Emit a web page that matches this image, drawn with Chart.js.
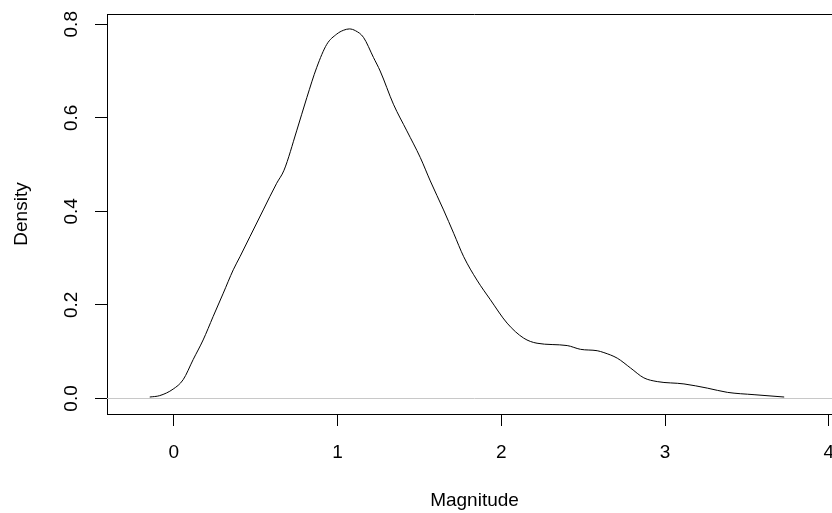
<!DOCTYPE html>
<html>
<head>
<meta charset="utf-8">
<script src="https://cdn.jsdelivr.net/npm/chart.js@4/dist/chart.umd.min.js"></script>
<style>
  html, body { margin: 0; padding: 0; background: #fff; overflow: hidden; width: 832px; height: 513px; }
  #wrap { width: 860px; height: 513px; }
</style>
</head>
<body>
<div id="wrap"><canvas id="density-canvas" width="860" height="513"></canvas></div>
<script>
// density estimate of magnitude
var magnitude = [-0.147, -0.086, -0.004, 0.057, 0.118, 0.179, 0.240, 0.302, 0.363, 0.404, 0.465, 0.546, 0.628, 0.673,
    0.750, 0.812, 0.873, 0.934, 0.995, 1.035, 1.072, 1.110, 1.158, 1.219, 1.260, 1.341, 1.423, 1.505, 1.566, 1.647,
    1.709, 1.770, 1.851, 1.933, 2.035, 2.136, 2.218, 2.402, 2.483, 2.585, 2.626, 2.708, 2.789, 2.870, 2.952,
    3.115, 3.258, 3.380, 3.543, 3.727];
var density = [0.003, 0.006, 0.020, 0.040, 0.083, 0.125, 0.175, 0.225, 0.275, 0.303, 0.346, 0.403, 0.460, 0.488,
    0.572, 0.643, 0.708, 0.757, 0.779, 0.787, 0.790, 0.786, 0.772, 0.729, 0.700, 0.629, 0.572, 0.515, 0.465, 0.403,
    0.353, 0.303, 0.253, 0.211, 0.161, 0.129, 0.118, 0.113, 0.105, 0.102, 0.098, 0.086, 0.065, 0.044, 0.036,
    0.031, 0.022, 0.013, 0.008, 0.003];
var xTicks = [0, 1, 2, 3, 4];
var yTicks = [0, 0.2, 0.4, 0.6, 0.8];
var yTickLabels = ['0.0', '0.2', '0.4', '0.6', '0.8'];

var fontFamily = '"Liberation Sans", Arial, sans-serif';
var fontSize = 19;

var points = magnitude.map(function(v, i) { return { x: v, y: density[i] }; });

// box top edge, zero line and rotated y labels like base R
var rStyle = {
    id: 'rStyle',
    beforeDatasetsDraw: function(chart) {
        var ctx = chart.ctx;
        var area = chart.chartArea;
        var y0 = Math.round(chart.scales.y.getPixelForValue(0)) + 0.5;
        ctx.save();
        ctx.strokeStyle = '#c8c8c8';
        ctx.lineWidth = 1;
        ctx.beginPath();
        ctx.moveTo(area.left, y0);
        ctx.lineTo(area.right, y0);
        ctx.stroke();
        ctx.restore();
    },
    afterDraw: function(chart) {
        var ctx = chart.ctx;
        var area = chart.chartArea;
        var yScale = chart.scales.y;
        ctx.save();
        ctx.strokeStyle = '#000';
        ctx.lineWidth = 1;
        ctx.beginPath();
        ctx.moveTo(area.left, Math.round(area.top) + 0.5);
        ctx.lineTo(area.right, Math.round(area.top) + 0.5);
        ctx.stroke();

        ctx.fillStyle = '#000';
        ctx.font = fontSize + 'px ' + fontFamily;
        ctx.textAlign = 'center';
        ctx.textBaseline = 'middle';
        yTicks.forEach(function(v, i) {
            var py = yScale.getPixelForValue(v);
            ctx.save();
            ctx.translate(72, py);
            ctx.rotate(-Math.PI / 2);
            ctx.fillText(yTickLabels[i], 0, 0);
            ctx.restore();
        });
        ctx.restore();
    }
};

var densityChart = new Chart(document.getElementById('density-canvas').getContext('2d'), {
    type: 'line',
    data: {
        datasets: [{
            data: points,
            borderColor: '#000',
            borderWidth: 1,
            pointRadius: 0,
            fill: false,
            cubicInterpolationMode: 'monotone'
        }]
    },
    options: {
        responsive: false,
        animation: false,
        devicePixelRatio: 1,
        layout: { padding: { top: 14, right: 18, left: 0, bottom: 0 } },
        plugins: { legend: { display: false }, tooltip: { enabled: false } },
        scales: {
            x: {
                type: 'linear',
                min: -0.408,
                max: 4.08,
                afterBuildTicks: function(scale) {
                    scale.ticks = xTicks.map(function(v) { return { value: v }; });
                },
                afterFit: function(scale) { scale.height = 99; },
                grid: {
                    drawOnChartArea: false,
                    drawTicks: true,
                    tickLength: 12,
                    tickColor: '#000'
                },
                border: { display: true, color: '#000', width: 1 },
                ticks: {
                    color: '#000',
                    padding: 15,
                    maxRotation: 0,
                    font: { family: fontFamily, size: fontSize }
                },
                title: {
                    display: true,
                    text: 'Magnitude',
                    color: '#000',
                    padding: { top: 0, bottom: 1 },
                    font: { family: fontFamily, size: fontSize }
                }
            },
            y: {
                type: 'linear',
                min: -0.0333,
                max: 0.8219,
                afterBuildTicks: function(scale) {
                    scale.ticks = yTicks.map(function(v) { return { value: v }; });
                },
                afterFit: function(scale) { scale.width = 107; },
                grid: {
                    drawOnChartArea: false,
                    drawTicks: true,
                    tickLength: 12,
                    tickColor: '#000'
                },
                border: { display: true, color: '#000', width: 1 },
                ticks: { display: false },
                title: {
                    display: true,
                    text: 'Density',
                    color: '#000',
                    padding: { top: 10, bottom: 0 },
                    font: { family: fontFamily, size: fontSize }
                }
            }
        }
    },
    plugins: [rStyle]
});
</script>
</body>
</html>
